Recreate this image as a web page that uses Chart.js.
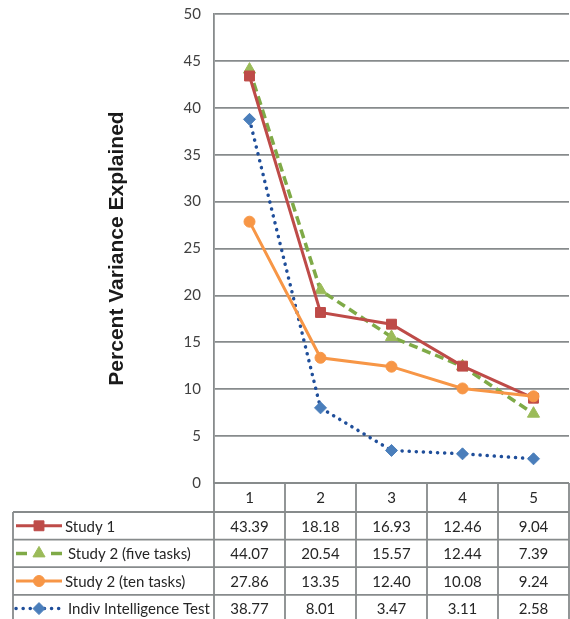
<!DOCTYPE html>
<html><head><meta charset="utf-8">
<style>html,body{margin:0;padding:0;overflow:hidden;background:#fff}canvas{display:block}</style>
<script src="https://cdn.jsdelivr.net/npm/chart.js@4"></script>
</head><body>
<canvas id="c" width="577" height="619"></canvas>
<script>
// ---- data ----
const categories = ['1', '2', '3', '4', '5'];
const seriesNames = ['Study 1', 'Study 2 (five tasks)', 'Study 2 (ten tasks)', 'Indiv Intelligence Test'];
const study1 = [43.39, 18.18, 16.93, 12.46, 9.04];
const study2Five = [44.07, 20.54, 15.57, 12.44, 7.39];
const study2Ten = [27.86, 13.35, 12.40, 10.08, 9.24];
const indivTest = [38.77, 8.01, 3.47, 3.11, 2.58];
const yMin = 0, yMax = 50, yStep = 5;
const yTitle = 'Percent Variance Explained';

const GRID = '#878b8c';
const TXT = '#262626';
const FONT = 'Lato, "Open Sans", sans-serif';

const seriesValues = [study1, study2Five, study2Ten, indivTest];
const styles = [
  {line: '#BE4B48', fill: '#BE4B48', point: 'rect', r: 7, dash: [], cap: 'butt', w: 3, keyDash: [], order: 1},
  {line: '#7FAA47', fill: '#9BBB59', point: 'triangle', r: 7, dash: [9, 5], cap: 'butt', w: 3.5, keyDash: [11, 24], order: 2},
  {line: '#F79646', fill: '#F79646', point: 'circle', r: 5.5, dash: [], cap: 'butt', w: 3, keyDash: [], order: 0},
  {line: '#1F4E9A', fill: '#4A7EBB', point: 'rectRot', r: 6, dash: [0.1, 7], cap: 'round', w: 3.5, keyDash: [0.1, 7], order: 3}
];

const datasets = seriesValues.map((vals, i) => ({
  label: seriesNames[i],
  data: vals,
  borderColor: styles[i].line,
  borderWidth: styles[i].w,
  borderDash: styles[i].dash,
  borderCapStyle: styles[i].cap,
  pointStyle: styles[i].point,
  pointRadius: styles[i].r,
  pointHoverRadius: styles[i].r,
  pointBackgroundColor: styles[i].fill,
  pointBorderColor: styles[i].fill,
  pointBorderWidth: 1,
  tension: 0,
  fill: false,
  order: styles[i].order
}));

const tablePlugin = {
  id: 'dataTable',
  afterDraw(chart) {
    const {ctx, chartArea: ca, scales: {x}} = chart;
    const n = categories.length;
    const colW = (ca.right - ca.left) / n;
    const headerTop = ca.bottom;
    const headerBottom = ca.bottom + 29;
    const rowH = 27.6;
    const tableLeft = 13;
    const tableBottom = headerBottom + rowH * seriesNames.length;
    ctx.save();
    ctx.strokeStyle = GRID;
    ctx.lineWidth = 1.8;
    ctx.setLineDash([]);
    ctx.beginPath();
    for (let i = 0; i <= n; i++) {
      const xx = ca.left + i * colW;
      ctx.moveTo(xx, headerTop);
      ctx.lineTo(xx, tableBottom);
    }
    ctx.moveTo(ca.left, headerTop);
    ctx.lineTo(ca.right, headerTop);
    for (let r = 0; r <= seriesNames.length; r++) {
      const yy = headerBottom + r * rowH;
      ctx.moveTo(tableLeft, yy);
      ctx.lineTo(ca.right, yy);
    }
    ctx.moveTo(tableLeft, headerBottom);
    ctx.lineTo(tableLeft, tableBottom);
    ctx.stroke();

    ctx.fillStyle = TXT;
    ctx.font = '15px ' + FONT;
    ctx.textAlign = 'center';
    ctx.textBaseline = 'middle';
    categories.forEach((c, i) => {
      ctx.fillText(c, x.getPixelForValue(i), (headerTop + headerBottom) / 2 + 1);
    });
    seriesValues.forEach((vals, r) => {
      const cy = headerBottom + (r + 0.5) * rowH + 1;
      ctx.textAlign = 'center';
      ctx.fillStyle = TXT;
      vals.forEach((v, i) => {
        ctx.fillText(v.toFixed(2), x.getPixelForValue(i), cy);
      });
      // legend key
      const st = styles[r];
      const ky = cy - 1;
      ctx.save();
      ctx.strokeStyle = st.line;
      ctx.lineWidth = st.w;
      ctx.lineCap = st.cap;
      ctx.setLineDash(st.keyDash);
      ctx.beginPath();
      ctx.moveTo(16, ky);
      ctx.lineTo(62, ky);
      ctx.stroke();
      ctx.restore();
      ctx.save();
      ctx.setLineDash([]);
      ctx.fillStyle = st.fill;
      ctx.strokeStyle = st.fill;
      ctx.lineWidth = 1;
      Chart.helpers.drawPoint(ctx, {pointStyle: st.point, radius: st.r, borderWidth: 1, rotation: 0}, 39, ky);
      ctx.restore();
      ctx.fillStyle = TXT;
      ctx.textAlign = 'left';
      ctx.fillText(seriesNames[r], r === 0 || r === 2 ? 65 : 68, cy);
    });
    ctx.restore();
  }
};

new Chart(document.getElementById('c'), {
  type: 'line',
  data: {labels: categories, datasets},
  options: {
    responsive: false,
    animation: false,
    devicePixelRatio: 1,
    layout: {padding: {top: 14, bottom: 136, left: 0, right: 0}},
    plugins: {legend: {display: false}, tooltip: {enabled: false}},
    scales: {
      x: {type: 'category', display: false, offset: true},
      y: {
        min: yMin, max: yMax,
        ticks: {stepSize: yStep, padding: 13, color: '#404040', font: {size: 15, family: FONT}},
        grid: {color: GRID, lineWidth: 1.8, drawTicks: false},
        border: {display: true, color: GRID, width: 1.8},
        title: {display: true, text: yTitle, color: '#1a1a1a', padding: {top: 105, bottom: 0},
                font: {size: 21, weight: 'bold', family: '"Liberation Sans", Arial, sans-serif'}},
        afterFit(scale) { scale.width = 214; scale.paddingTop = 0; scale.paddingBottom = 0; }
      }
    }
  },
  plugins: [tablePlugin]
});
</script>
</body></html>
